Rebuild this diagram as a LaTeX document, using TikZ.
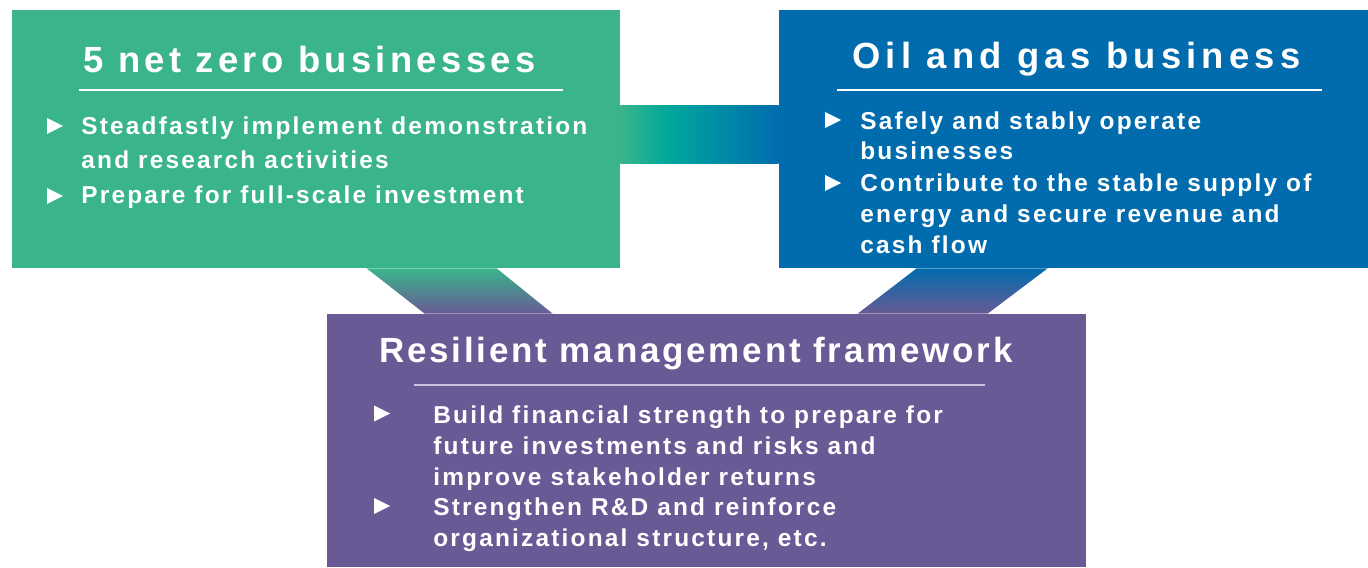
\documentclass[tikz,border=0pt]{standalone}
\usepackage{fontspec}
\setmainfont{Liberation Sans}
\newfontfamily\headfont{Liberation Sans}[LetterSpace=12]
\newfontfamily\ogheadfont{Liberation Sans}[LetterSpace=14.5]
\newfontfamily\frameheadfont{Liberation Sans}[LetterSpace=8]
\newfontfamily\bodyfont{Liberation Sans}[LetterSpace=9]
\usepackage{xcolor}
\definecolor{nzgreen}{HTML}{3AB48B}
\definecolor{ogblue}{HTML}{006CAE}
\definecolor{rmpurple}{HTML}{695A96}
\definecolor{linkteal}{HTML}{00A89B}
\definecolor{rmrule}{HTML}{C9C2E0}

% green -> teal -> blue along the link bar
\pgfdeclarehorizontalshading{linkbar}{100bp}{color(0bp)=(nzgreen); color(25bp)=(nzgreen);
  color(40bp)=(linkteal); color(75bp)=(ogblue); color(100bp)=(ogblue)}

\begin{document}
\begin{tikzpicture}[
  x=1cm,
  y=1cm,
  every node/.style={text=white, inner sep=0pt},
  panel/.style={draw=none, minimum width=#1},
  boxtitle/.style={anchor=base west, font=\headfont\bfseries\fontsize{20.7}{24}\selectfont},
  boxitem/.style={anchor=base west, align=left, font=\bodyfont\bfseries\fontsize{13.9}{#1}\selectfont},
  boxitem/.default=17.5pt
]
  \useasboundingbox (0,0) rectangle (27.36,11.34);

  % the three panels
  \node[panel=12.16cm, fill=nzgreen, minimum height=5.16cm] (zero) at (6.32,8.56) {};
  \node[panel=11.78cm, fill=ogblue, minimum height=5.16cm] (oilgas) at (21.47,8.56) {};
  \node[panel=15.18cm, fill=rmpurple, minimum height=5.06cm] (frame) at (14.13,2.53) {};

  % links between the panels
  \shade[shading=linkbar] ([yshift=-0.50cm]zero.east) rectangle ([yshift=0.66cm]oilgas.west);
  \shade[top color=nzgreen, bottom color=rmpurple]
    ([xshift=7.10cm]zero.south west) -- ([xshift=9.70cm]zero.south west)
    -- ([xshift=4.52cm]frame.north west) -- ([xshift=1.96cm]frame.north west) -- cycle;
  \shade[top color=ogblue, bottom color=rmpurple]
    ([xshift=2.76cm]oilgas.south west) -- ([xshift=5.38cm]oilgas.south west)
    -- ([xshift=13.22cm]frame.north west) -- ([xshift=10.62cm]frame.north west) -- cycle;

  % 5 net zero businesses (multi-line items sit on their last baseline)
  \node[boxtitle] (zerot) at (1.66,9.88) {5 net zero businesses};
  \draw[white, line width=1pt] (1.58,9.54) -- (11.26,9.54);
  \fill[white] (0.94,8.98) -- (1.26,8.82) -- (0.94,8.66) -- cycle;
  \node[boxitem=19.6pt] (zeroa) at (1.62,7.97) {Steadfastly implement demonstration\\and research activities};
  \fill[white] (0.94,7.58) -- (1.26,7.42) -- (0.94,7.26) -- cycle;
  \node[boxitem] (zerob) at (1.62,7.26) {Prepare for full-scale investment};

  % oil and gas business
  \node[boxtitle, font=\ogheadfont\bfseries\fontsize{20.7}{24}\selectfont] (ogt) at (17.04,9.96) {Oil and gas business};
  \draw[white, line width=1pt] (16.74,9.54) -- (26.44,9.54);
  \fill[white] (16.50,9.10) -- (16.82,8.94) -- (16.50,8.78) -- cycle;
  \node[boxitem] (oga) at (17.20,8.14) {Safely and stably operate\\businesses};
  \fill[white] (16.50,7.84) -- (16.82,7.68) -- (16.50,7.52) -- cycle;
  \node[boxitem] (ogb) at (17.20,6.27) {Contribute to the stable supply of\\energy and secure revenue and\\cash flow};

  % resilient management framework
  \node[boxtitle, font=\frameheadfont\bfseries\fontsize{19.9}{24}\selectfont] (frt) at (7.58,4.08)
    {Resilient management framework};
  \draw[rmrule, line width=1pt] (8.28,3.64) -- (19.70,3.64);
  \fill[white] (7.48,3.23) -- (7.80,3.07) -- (7.48,2.91) -- cycle;
  \node[boxitem=17.6pt] (fra) at (8.66,1.64) {Build financial strength to prepare for\\future investments and risks and\\improve stakeholder returns};
  \fill[white] (7.48,1.38) -- (7.80,1.22) -- (7.48,1.06) -- cycle;
  \node[boxitem=17.6pt] (frb) at (8.66,0.42) {Strengthen R\&D and reinforce\\organizational structure, etc.};
\end{tikzpicture}
\end{document}
